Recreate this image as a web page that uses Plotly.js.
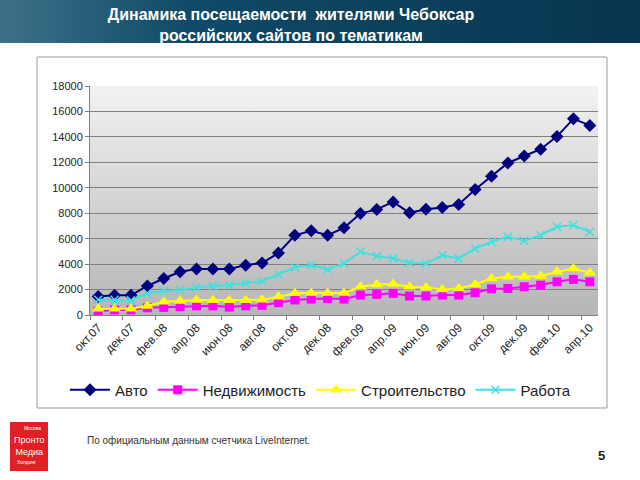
<!DOCTYPE html>
<html>
<head>
<meta charset="utf-8">
<script src="https://cdn.plot.ly/plotly-3.0.1.min.js"></script>
<style>html,body{margin:0;padding:0;background:#fff;}#chart{width:640px;height:480px;}</style>
</head>
<body>
<div id="chart"></div>
<script>
const months = ["окт.07","ноя.07","дек.07","янв.08","фев.08","мар.08","апр.08","май.08","июн.08","июл.08","авг.08","сен.08",
  "окт.08","ноя.08","дек.08","янв.09","фев.09","мар.09","апр.09","май.09","июн.09","июл.09","авг.09","сен.09",
  "окт.09","ноя.09","дек.09","янв.10","фев.10","мар.10","апр.10"];
const avto = [1450,1550,1550,2280,2870,3400,3620,3620,3620,3920,4080,4870,6260,6620,6270,6850,7970,8300,8890,8030,8310,8450,8690,9860,10900,11950,12500,13030,14040,15420,14900];
const nedv = [300,400,400,570,600,650,720,720,620,720,760,970,1180,1250,1300,1250,1570,1620,1700,1490,1490,1570,1570,1750,2060,2090,2220,2350,2610,2800,2610];
const stroi = [500,500,500,700,1050,1100,1180,1150,1150,1150,1200,1440,1700,1730,1730,1730,2220,2400,2430,2220,2170,2010,2090,2400,2870,3000,3000,3060,3400,3660,3320];
const rabota = [1200,1200,1150,1700,1900,1960,2170,2270,2350,2490,2650,3200,3750,3920,3580,4050,4970,4630,4450,4100,4050,4700,4450,5230,5750,6140,5830,6270,6930,7060,6530];
const seriesNames = ["Авто","Недвижимость","Строительство","Работа"];
const footNote = "По официальным данным счетчика LiveInternet.";
const pageNum = "5";

const L = 90, R = 598, T = 86, B = 315;
const W = R - L, H = B - T;
const px = v => (v - L) / W;
const py = v => (B - v) / H;

const plotGrad = 'data:image/svg+xml;utf8,' + encodeURIComponent('<svg xmlns="http://www.w3.org/2000/svg" width="100" height="100" preserveAspectRatio="none"><defs><linearGradient id="g" x1="0" y1="0" x2="0" y2="1"><stop offset="0" stop-color="#f2f2f2"/><stop offset="1" stop-color="#b6b6b6"/></linearGradient></defs><rect width="100" height="100" fill="url(#g)"/></svg>');
const bandGrad = 'data:image/svg+xml;utf8,' + encodeURIComponent('<svg xmlns="http://www.w3.org/2000/svg" width="100" height="100" preserveAspectRatio="none"><defs><linearGradient id="g" x1="0" y1="0" x2="1" y2="0"><stop offset="0" stop-color="#3d7188"/><stop offset="0.3" stop-color="#0f4a66"/><stop offset="1" stop-color="#08354f"/></linearGradient></defs><rect width="100" height="100" fill="url(#g)"/></svg>');

const font = "Liberation Sans, Arial, sans-serif";

const traces = [
  {x: months, y: avto, name: seriesNames[0], type: 'scatter', mode: 'lines+markers',
   line: {color: '#000080', width: 2}, marker: {symbol: 'diamond', size: 10, color: '#000080'}},
  {x: months, y: nedv, name: seriesNames[1], type: 'scatter', mode: 'lines+markers',
   line: {color: '#ff00ff', width: 2}, marker: {symbol: 'square', size: 9, color: '#ff00ff'}},
  {x: months, y: stroi, name: seriesNames[2], type: 'scatter', mode: 'lines+markers',
   line: {color: '#ffff00', width: 2}, marker: {symbol: 'triangle-up', size: 11, color: '#ffff00'}},
  {x: months, y: rabota, name: seriesNames[3], type: 'scatter', mode: 'lines+markers',
   line: {color: '#40e0e0', width: 2}, marker: {symbol: 'x-thin-open', size: 8, color: '#40e0e0', line: {color: '#40e0e0', width: 1.5}}}
];

const layout = {
  width: 640, height: 480,
  margin: {l: L, r: 640 - R, t: T, b: 480 - B, pad: 0},
  paper_bgcolor: '#ffffff', plot_bgcolor: 'rgba(0,0,0,0)',
  showlegend: true,
  font: {family: font, color: '#222'},
  title: {text: 'Динамика посещаемости  жителями Чебоксар<br>российских сайтов по тематикам',
    font: {family: font, size: 16, color: '#ffffff', weight: 'bold'},
    xref: 'paper', x: px(291), xanchor: 'center', yref: 'container', y: 1 - 20/480, yanchor: 'middle'},
  xaxis: {type: 'category', range: [-0.5, months.length - 0.5], tickangle: -45, dtick: 2, tickson: 'boundaries',
    showline: true, linecolor: '#808080', linewidth: 1, ticks: 'outside', ticklen: 4, tickcolor: '#808080',
    showgrid: false, tickfont: {family: font, size: 12, color: '#222'}, fixedrange: true},
  yaxis: {range: [0, 18000], dtick: 2000, tickformat: 'd', showline: true, linecolor: '#808080', ticks: 'outside', ticklen: 4,
    tickcolor: '#808080', gridcolor: '#808080', gridwidth: 1, zeroline: false,
    tickfont: {family: font, size: 11, color: '#222'}, fixedrange: true},
  legend: {orientation: 'h', x: px(65), xanchor: 'left', y: py(390), yanchor: 'middle',
    font: {family: font, size: 15, color: '#222'}, itemwidth: 40, bgcolor: 'rgba(0,0,0,0)'},
  images: [
    {source: plotGrad, xref: 'paper', yref: 'paper', x: 0, y: 1, sizex: 1, sizey: 1, sizing: 'stretch', layer: 'below', xanchor: 'left', yanchor: 'top'},
    {source: bandGrad, xref: 'paper', yref: 'paper', x: px(0), y: py(0), sizex: 640 / W, sizey: 43 / H, sizing: 'stretch', layer: 'below', xanchor: 'left', yanchor: 'top'}
  ],
  shapes: [
    {type: 'rect', xref: 'paper', yref: 'paper', x0: px(37), x1: px(607), y0: py(408), y1: py(57), line: {color: '#9a9a9a', width: 1}, fillcolor: 'rgba(0,0,0,0)', layer: 'below'},
    {type: 'rect', xref: 'paper', yref: 'paper', x0: px(10), x1: px(48), y0: py(471), y1: py(422), line: {width: 0}, fillcolor: '#e31e24'}
  ],
  annotations: [
    {text: footNote, xref: 'paper', yref: 'paper', x: px(85), y: py(440), xanchor: 'left', yanchor: 'middle', showarrow: false,
     font: {family: font, size: 10, color: '#333'}},
    {text: pageNum, xref: 'paper', yref: 'paper', x: px(607), y: py(455), xanchor: 'right', yanchor: 'middle', showarrow: false,
     font: {family: font, size: 13, color: '#222', weight: 'bold'}},
    {text: 'Москва', xref: 'paper', yref: 'paper', x: px(32), y: py(428), xanchor: 'center', yanchor: 'middle', showarrow: false,
     font: {family: font, size: 5, color: '#ffffff'}},
    {text: 'Пронто<br>Медиа', xref: 'paper', yref: 'paper', x: px(29), y: py(446), xanchor: 'center', yanchor: 'middle', showarrow: false,
     font: {family: font, size: 9, color: '#ffffff'}},
    {text: 'Холдинг', xref: 'paper', yref: 'paper', x: px(26), y: py(462), xanchor: 'center', yanchor: 'middle', showarrow: false,
     font: {family: font, size: 5, color: '#ffffff'}}
  ]
};

Plotly.newPlot('chart', traces, layout, {staticPlot: true, displayModeBar: false});
</script>
</body>
</html>
